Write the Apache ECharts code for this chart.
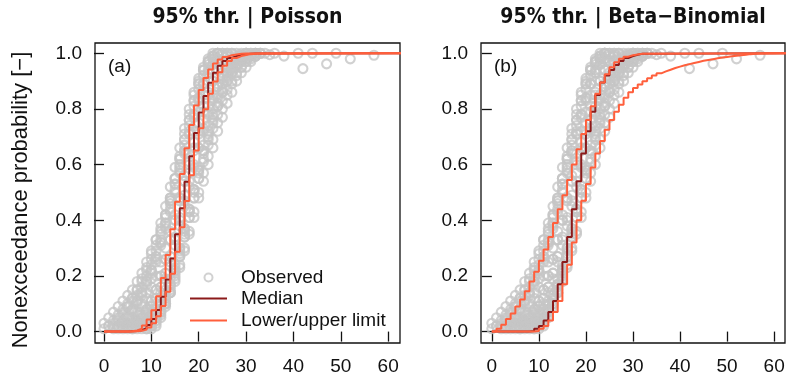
<!DOCTYPE html>
<html>
<head>
<meta charset="utf-8">
<script src="https://cdn.jsdelivr.net/npm/echarts@6/dist/echarts.min.js"></script>
<style>
  html, body { margin: 0; padding: 0; background: #fff; }
  #chart { width: 788px; height: 376px; }
</style>
</head>
<body>
<div id="chart"></div>
<script>
// Tick positions
const xTicks = [0, 10, 20, 30, 40, 50, 60];
const yTicks = [0, 0.2, 0.4, 0.6, 0.8, 1.0];

// Panel titles
const panelTitles = ['95% thr. | Poisson', '95% thr. | Beta\u2212Binomial'];
const panelTags = ['(a)', '(b)'];

// Observed empirical CDFs, one per station: first count value, then probabilities at consecutive counts
const obsStart = [0, 1, 2, 3, 4, 5, 6, 7, 8, 9, 9, 10, 8, 5, 0, 2, 6, 7, 3, 10, 4, 11];
const obsProb = [
  [0.03,0.05,0.07,0.09,0.11,0.13,0.15,0.18,0.21,0.25,0.29,0.33,0.37,0.42,0.47,0.53,0.59,0.65,0.71,0.77,0.83,0.89,0.94,0.98,1.0],
  [0.02,0.04,0.06,0.08,0.10,0.12,0.15,0.18,0.22,0.26,0.31,0.36,0.42,0.48,0.55,0.62,0.69,0.76,0.83,0.89,0.94,0.97,0.99,1.0],
  [0.01,0.02,0.04,0.06,0.08,0.11,0.14,0.18,0.22,0.27,0.33,0.39,0.46,0.53,0.60,0.67,0.74,0.81,0.87,0.92,0.96,0.98,1.0],
  [0.01,0.02,0.03,0.05,0.07,0.10,0.14,0.19,0.25,0.32,0.39,0.47,0.55,0.63,0.71,0.78,0.85,0.90,0.94,0.97,0.99,1.0],
  [0.01,0.02,0.03,0.04,0.06,0.08,0.11,0.15,0.20,0.26,0.33,0.40,0.48,0.56,0.64,0.72,0.79,0.85,0.90,0.94,0.97,0.99,1.0],
  [0.01,0.02,0.03,0.05,0.07,0.09,0.12,0.16,0.21,0.27,0.34,0.41,0.49,0.57,0.65,0.72,0.79,0.85,0.90,0.94,0.97,0.99,1.0],
  [0.01,0.02,0.03,0.04,0.06,0.08,0.11,0.15,0.19,0.24,0.30,0.37,0.44,0.51,0.58,0.65,0.72,0.78,0.84,0.89,0.93,0.96,0.98,0.99,1.0],
  [0.01,0.02,0.03,0.05,0.07,0.10,0.13,0.17,0.22,0.28,0.34,0.41,0.48,0.55,0.62,0.69,0.75,0.81,0.86,0.90,0.93,0.96,0.98,1.0],
  [0.01,0.02,0.03,0.05,0.07,0.10,0.14,0.19,0.24,0.30,0.36,0.43,0.50,0.57,0.63,0.69,0.75,0.80,0.85,0.89,0.92,0.95,0.97,0.99,1.0],
  [0.01,0.02,0.04,0.07,0.10,0.14,0.18,0.23,0.29,0.35,0.41,0.48,0.54,0.60,0.66,0.72,0.77,0.82,0.86,0.90,0.93,0.95,0.97,0.99,1.0],
  [0.01,0.03,0.05,0.08,0.12,0.17,0.23,0.30,0.37,0.44,0.51,0.58,0.65,0.71,0.77,0.82,0.87,0.91,0.94,0.96,0.98,1.0],
  [0.02,0.04,0.07,0.11,0.16,0.22,0.29,0.36,0.43,0.50,0.57,0.64,0.70,0.76,0.81,0.86,0.90,0.93,0.95,0.97,0.98,0.99,1.0],
  [0.02,0.04,0.07,0.10,0.14,0.19,0.25,0.31,0.38,0.45,0.52,0.59,0.66,0.73,0.79,0.84,0.89,0.93,0.96,0.98,0.99,1.0],
  [0.02,0.04,0.06,0.09,0.12,0.16,0.20,0.25,0.30,0.36,0.42,0.48,0.54,0.60,0.66,0.71,0.76,0.81,0.85,0.88,0.91,0.93,0.945,0.96,0.97,0.98,0.99,1.0],
  [0.01,0.02,0.03,0.05,0.07,0.09,0.11,0.13,0.16,0.20,0.24,0.29,0.35,0.41,0.48,0.55,0.62,0.69,0.76,0.83,0.89,0.94,0.97,0.99,1.0],
  [0.02,0.04,0.06,0.09,0.12,0.15,0.19,0.23,0.28,0.33,0.39,0.45,0.52,0.59,0.66,0.73,0.80,0.86,0.91,0.95,0.98,1.0],
  [0.01,0.03,0.05,0.08,0.11,0.15,0.20,0.26,0.33,0.40,0.47,0.54,0.61,0.68,0.75,0.81,0.86,0.90,0.94,0.97,0.99,1.0],
  [0.02,0.04,0.06,0.09,0.12,0.16,0.21,0.27,0.33,0.40,0.47,0.54,0.60,0.66,0.72,0.78,0.83,0.88,0.92,0.95,0.97,0.985,0.995,1.0],
  [0.02,0.03,0.05,0.07,0.10,0.13,0.17,0.21,0.26,0.31,0.37,0.43,0.50,0.57,0.64,0.71,0.78,0.84,0.89,0.93,0.96,0.98,1.0],
  [0.01,0.03,0.06,0.10,0.15,0.21,0.27,0.34,0.41,0.48,0.55,0.61,0.67,0.73,0.78,0.83,0.87,0.90,0.93,0.95,0.97,0.98,0.99,1.0],
  [0.03,0.05,0.08,0.11,0.14,0.18,0.22,0.27,0.32,0.38,0.44,0.51,0.58,0.65,0.72,0.78,0.84,0.89,0.93,0.96,0.98,1.0],
  [0.02,0.05,0.09,0.14,0.20,0.27,0.35,0.43,0.51,0.59,0.67,0.74,0.80,0.85,0.89,0.92,0.95,0.97,0.98,0.99,1.0]
];
// Isolated observations in the upper tail: [count, probability]
const obsTail = [
  [26,1.0],[28,1.0],[29,0.99],[31,1.0],[32,0.99],[33,1.0],[34,1.0],[35,0.995],[36,1.0],
  [38,0.99],[41,1.0],[42,0.945],[44,1.0],[47,0.962],[49,1.0],[52,0.98],[57,0.993]
];

// Modelled CDFs at counts 0,1,2,... (Poisson panel)
const medianA = [0,0,0,0,0,0.001,0.002,0.005,0.012,0.024,0.045,0.078,0.125,0.187,0.263,0.35,0.443,0.538,0.63,0.714,0.787,0.847,0.894,0.93,0.955,0.972,0.983,0.99,0.994,0.997,0.998,0.999,1];
const upperA  = [0,0,0,0,0,0.001,0.004,0.01,0.022,0.043,0.077,0.127,0.193,0.275,0.368,0.467,0.566,0.659,0.742,0.812,0.868,0.911,0.942,0.963,0.978,0.987,0.993,0.996,0.998,0.999,1];
const lowerA  = [0,0,0,0,0,0,0.001,0.003,0.007,0.015,0.03,0.055,0.092,0.143,0.208,0.287,0.375,0.469,0.562,0.651,0.731,0.799,0.855,0.899,0.932,0.955,0.972,0.983,0.99,0.994,0.997,0.998,0.999,1];

// Modelled CDFs at counts 0,1,2,... (Beta-Binomial panel)
const medianB = [0,0,0,0,0,0,0,0,0.002,0.01,0.02,0.04,0.07,0.11,0.17,0.25,0.34,0.44,0.54,0.64,0.72,0.79,0.85,0.895,0.92,0.94,0.958,0.972,0.983,0.99,0.995,0.998,1];
const upperB  = [0,0.01,0.025,0.045,0.065,0.09,0.115,0.145,0.18,0.215,0.255,0.295,0.34,0.39,0.44,0.49,0.545,0.6,0.655,0.71,0.76,0.81,0.855,0.895,0.925,0.95,0.968,0.98,0.988,0.993,0.996,0.998,1];
const lowerB  = [0,0,0,0,0,0,0,0,0,0.002,0.01,0.02,0.04,0.07,0.11,0.17,0.24,0.32,0.4,0.47,0.53,0.59,0.64,0.685,0.725,0.76,0.79,0.815,0.84,0.86,0.875,0.888,0.9,0.91,0.92,0.928,0.935,0.941,0.947,0.952,0.957,0.961,0.965,0.969,0.973,0.976,0.979,0.982,0.985,0.987,0.989,0.991,0.993,0.995,0.997,0.998,0.999,1];

// ---- build series data ----
const FONT = "'Liberation Sans', Arial, Helvetica, sans-serif";
const TITLE_FONT = "'Liberation Sans Narrow', 'Arial Narrow', 'DejaVu Sans Condensed', sans-serif";
const GRAY = '#c6c6c6';
const DARKRED = '#8b1a1a';
const TOMATO = '#ff5f3c';
const X_EDGE = 63; // last step is carried on to the panel edge

const observed = [];
obsProb.forEach((arr, s) => {
  arr.forEach((p, i) => observed.push([obsStart[s] + i, p]));
});
obsTail.forEach(pt => observed.push(pt));

function steps(arr) {
  const d = arr.map((p, k) => [k, p]);
  d.push([X_EDGE, arr[arr.length - 1]]);
  return d;
}

const grids = [
  { left: 95, top: 43, width: 305, height: 302 },
  { left: 481, top: 43, width: 304, height: 302 }
];
const xRanges = [[-1.9, 62.5], [-2.3, 62.3]];
const curves = [[medianA, upperA, lowerA], [medianB, upperB, lowerB]];

function legendText() {
  return { fontSize: 19, color: '#111', fontFamily: FONT, lineHeight: 19, padding: [0, 0, 0, 9] };
}

const option = {
  animation: false,
  backgroundColor: '#fff',
  grid: grids.map(g => Object.assign({
    show: true, borderColor: '#111', borderWidth: 1.3, backgroundColor: 'transparent'
  }, g)),
  xAxis: grids.map((g, i) => ({
    gridIndex: i, type: 'value', min: xRanges[i][0], max: xRanges[i][1],
    axisLine: { show: false },
    splitLine: { show: false },
    axisTick: { show: true, length: 10, customValues: xTicks, lineStyle: { color: '#111', width: 1.3 } },
    axisLabel: { customValues: xTicks, margin: 14, fontSize: 19, color: '#111', fontFamily: FONT }
  })),
  yAxis: grids.map((g, i) => ({
    gridIndex: i, type: 'value', min: -0.041, max: 1.037,
    axisLine: { show: false },
    splitLine: { show: false },
    axisTick: { show: true, length: 10, customValues: yTicks, lineStyle: { color: '#111', width: 1.3 } },
    axisLabel: { customValues: yTicks, margin: 13, fontSize: 19, color: '#111', fontFamily: FONT,
      formatter: v => v.toFixed(1) }
  })),
  legend: [
    {
      // the circle icon sits in the middle of its 37px slot, so the box is placed by the circle's edge
      left: 203.5, top: 268, orient: 'vertical', padding: 0,
      itemWidth: 37, itemHeight: 8, selectedMode: false,
      textStyle: legendText(),
      data: ['Observed']
    },
    {
      left: 190, top: 289, orient: 'vertical', padding: 0,
      itemWidth: 37, itemHeight: 2, itemGap: 3, selectedMode: false,
      textStyle: legendText(),
      data: [{ name: 'Median', icon: 'rect' }, { name: 'Lower/upper limit', icon: 'rect' }]
    }
  ],
  series: [],
  graphic: []
};

[0, 1].forEach(i => {
  option.series.push({
    name: 'Observed', type: 'scatter', xAxisIndex: i, yAxisIndex: i,
    symbol: 'circle', symbolSize: 9,
    itemStyle: { color: 'rgba(255,255,255,0)', borderColor: GRAY, borderWidth: 2.1 },
    data: observed, z: 2
  });
  const [med, up, lo] = curves[i];
  option.series.push({
    name: 'Median', type: 'line', step: 'end', xAxisIndex: i, yAxisIndex: i,
    symbol: 'none', clip: true, lineStyle: { color: DARKRED, width: 2 }, itemStyle: { color: DARKRED },
    data: steps(med), z: 3
  });
  [up, lo].forEach(arr => option.series.push({
    name: 'Lower/upper limit', type: 'line', step: 'end', xAxisIndex: i, yAxisIndex: i,
    symbol: 'none', clip: true, lineStyle: { color: TOMATO, width: 2 }, itemStyle: { color: TOMATO },
    data: steps(arr), z: 4
  }));
  const g = grids[i];
  option.graphic.push({
    type: 'text', x: g.left + g.width / 2, y: 18,
    style: { text: panelTitles[i], font: 'bold 21px ' + TITLE_FONT, fill: '#111', align: 'center', verticalAlign: 'middle' }
  });
  option.graphic.push({
    type: 'text', x: g.left + 13, y: 67,
    style: { text: panelTags[i], font: '19px ' + FONT, fill: '#111', align: 'left', verticalAlign: 'middle' }
  });
});

option.graphic.push({
  type: 'text', x: 21, y: 200, rotation: Math.PI / 2,
  style: { text: 'Nonexceedance probability [\u2212]', font: '22px ' + FONT, fill: '#111', align: 'center', verticalAlign: 'middle' }
});

const chart = echarts.init(document.getElementById('chart'), null, { renderer: 'canvas' });
chart.setOption(option);
</script>
</body>
</html>
